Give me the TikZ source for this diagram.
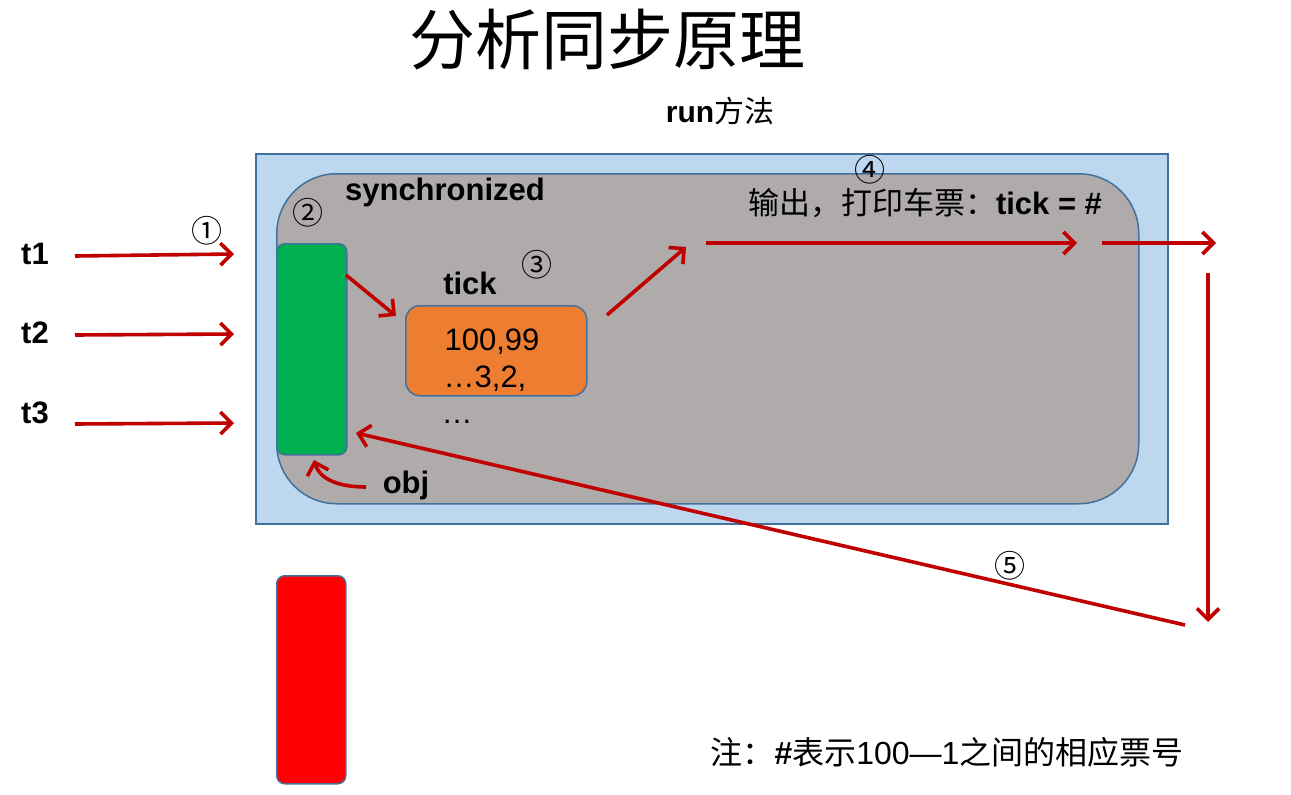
\documentclass[tikz,border=0pt]{standalone}
\usepackage{fontspec}
\setmainfont{Liberation Sans}
\newfontfamily\cjk{Noto Sans CJK SC}
\usetikzlibrary{arrows.meta}
\definecolor{outerfill}{HTML}{BDD7EE}
\definecolor{boxline}{HTML}{41719C}
\definecolor{grayfill}{HTML}{AFABAB}
\definecolor{greenfill}{HTML}{00B050}
\definecolor{orangefill}{HTML}{ED7D31}
\definecolor{redfill}{HTML}{FF0000}
\definecolor{arrowred}{HTML}{C00000}
\tikzset{
  flow/.style={draw=arrowred, line width=3.6pt, -{Straight Barb[length=11pt,width=22pt,line width=3.6pt]}},
  blk/.style={draw=boxline, line width=1.5pt, rounded corners=8pt},
  lbl/.style={font=\fontsize{31}{34}\selectfont\bfseries, inner sep=0pt},
  num/.style={font=\cjk\fontsize{31}{33}\selectfont, inner sep=0pt},
  body/.style={inner sep=0pt, font=\fontsize{31}{35}\selectfont},
}
\begin{document}
\begin{tikzpicture}[x=1pt,y=-1pt]
\useasboundingbox (0,0) rectangle (1291,795);
% frames
\node[draw=boxline, line width=1.5pt, fill=outerfill, minimum width=912pt, minimum height=370pt, anchor=north west, inner sep=0pt] (outer) at (255,153) {};
\node[draw=boxline, line width=1.5pt, fill=grayfill, rounded corners=60pt, minimum width=862pt, minimum height=330pt, anchor=north west, inner sep=0pt] (sync) at (276,173) {};
\node[blk, fill=greenfill, minimum width=70pt, minimum height=211pt, anchor=north west, inner sep=0pt] (green) at (276,243) {};
\node[blk, fill=orangefill, rounded corners=14pt, minimum width=181pt, minimum height=90pt, anchor=north west, inner sep=0pt] (orange) at (405,305) {};
\node[blk, fill=redfill, minimum width=69pt, minimum height=208pt, anchor=north west, inner sep=0pt] (redobj) at (276,575) {};
% texts
\node[font=\cjk\fontsize{66}{72}\selectfont, inner sep=0pt] (title) at (607,40) {分析同步原理};
\node[inner sep=0pt, font=\fontsize{30}{34}\selectfont] (run) at (720,111) {\textbf{run}{\cjk 方法}};
\node[lbl] (synclbl) at (445,192) {synchronized};
\node[lbl] (t1) at (35,254) {t1};
\node[lbl] (t2) at (35,333) {t2};
\node[lbl] (t3) at (35,413) {t3};
\node[lbl] (ticklbl) at (470,283) {tick};
\node[lbl] (objlbl) at (406,485) {obj};
\node[body] (v1) at (492,342) {100,99};
\node[body] (v2) at (485,379) {\dots3,2,};
\node[body] (v3) at (457,422) {\dots};
\node[body] (out) at (925,203) {{\cjk 输出，打印车票：}\textbf{tick = \#}};
\node[inner sep=0pt, font=\fontsize{32}{36}\selectfont] (note) at (947,752) {{\cjk 注：}\textbf{\#}{\cjk 表示}100—1{\cjk 之间的相应票号}};
\node[num] (n1) at (207,231) {①};
\node[num] (n2) at (308,213) {②};
\node[num] (n3) at (537,265) {③};
\node[num] (n4) at (870,170) {④};
\node[num] (n5) at (1010,566) {⑤};
% arrow endpoints
\coordinate (a1s) at (75,256); \coordinate (a1e) at (234,254);
\coordinate (a2s) at (75,335); \coordinate (a2e) at (234,334);
\coordinate (a3s) at (75,424); \coordinate (a3e) at (234,423);
\coordinate (gts) at (346,275); \coordinate (gte) at (396,316);
\coordinate (ots) at (607,315); \coordinate (ote) at (686,247);
\coordinate (ps) at (706,243); \coordinate (pe) at (1077,243);
\coordinate (qs) at (1102,243); \coordinate (qe) at (1216,243);
\coordinate (ds) at (1208,273); \coordinate (de) at (1208,622);
\coordinate (bs) at (1185,625); \coordinate (be) at (356,433);
\coordinate (os) at (366,487); \coordinate (oe) at (314,460);
\draw[flow] (a1s) -- (a1e);
\draw[flow] (a2s) -- (a2e);
\draw[flow] (a3s) -- (a3e);
\draw[flow] (gts) -- (gte);
\draw[flow] (ots) -- (ote);
\draw[flow] (ps) -- (pe);
\draw[flow] (qs) -- (qe);
\draw[flow] (ds) -- (de);
\draw[flow] (bs) -- (be);
\draw[flow] (os) .. controls (340,487) and (320,480) .. (oe);
\end{tikzpicture}
\end{document}
